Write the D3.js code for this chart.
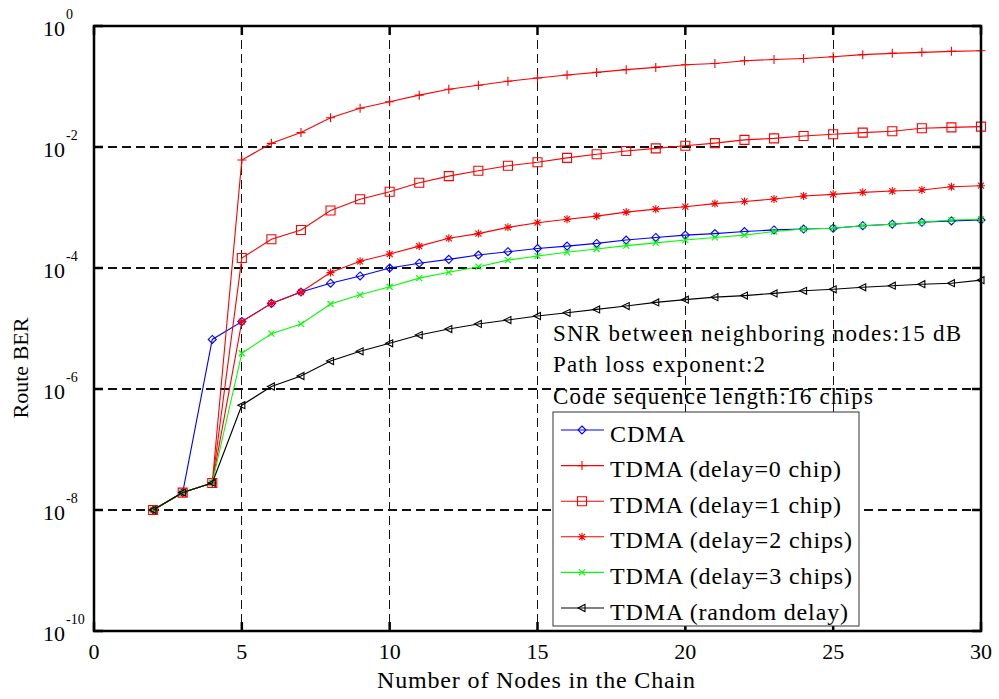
<!DOCTYPE html>
<html>
<head>
<meta charset="utf-8">
<script src="https://cdn.jsdelivr.net/npm/d3@7"></script>
<style>
  body { margin: 0; background: #fff; }
  text { font-family: "Liberation Serif", "Times New Roman", serif; fill: #000; }
</style>
</head>
<body>
<script>
// number of nodes in the chain (x axis)
var nodes = [2, 3, 4, 5, 6, 7, 8, 9, 10, 11, 12, 13, 14, 15, 16, 17, 18, 19, 20,
             21, 22, 23, 24, 25, 26, 27, 28, 29, 30];

// route BER
var cdma = [1.0e-8, 1.94e-8, 6.6e-6, 1.3e-5, 2.6e-5, 4.0e-5, 5.6e-5, 7.4e-5, 1.0e-4, 1.2e-4,
            1.39e-4, 1.64e-4, 1.86e-4, 2.1e-4, 2.3e-4, 2.55e-4, 2.9e-4, 3.2e-4, 3.5e-4, 3.7e-4,
            4.0e-4, 4.26e-4, 4.4e-4, 4.55e-4, 5.0e-4, 5.3e-4, 5.7e-4, 6.0e-4, 6.2e-4];
var tdma0 = [1.0e-8, 1.94e-8, 2.8e-8, 6.1e-3, 1.15e-2, 1.73e-2, 3.05e-2, 4.36e-2, 5.6e-2, 7.2e-2,
             9.0e-2, 0.105, 0.122, 0.138, 0.155, 0.171, 0.19, 0.207, 0.229, 0.24,
             0.267, 0.28, 0.29, 0.31, 0.336, 0.353, 0.367, 0.381, 0.39];
var tdma1 = [1.0e-8, 1.94e-8, 2.8e-8, 1.46e-4, 2.98e-4, 4.25e-4, 8.9e-4, 1.37e-3, 1.82e-3, 2.57e-3,
             3.3e-3, 4.05e-3, 4.9e-3, 5.6e-3, 6.6e-3, 7.6e-3, 8.6e-3, 9.5e-3, 1.05e-2, 1.16e-2,
             1.31e-2, 1.39e-2, 1.52e-2, 1.62e-2, 1.73e-2, 1.82e-2, 2.04e-2, 2.11e-2, 2.17e-2];
var tdma2 = [1.0e-8, 1.94e-8, 2.8e-8, 1.3e-5, 2.6e-5, 4.0e-5, 8.4e-5, 1.29e-4, 1.7e-4, 2.3e-4,
             3.1e-4, 3.7e-4, 4.7e-4, 5.6e-4, 6.4e-4, 7.2e-4, 8.4e-4, 9.4e-4, 1.03e-3, 1.16e-3,
             1.26e-3, 1.38e-3, 1.55e-3, 1.65e-3, 1.78e-3, 1.87e-3, 1.95e-3, 2.2e-3, 2.29e-3];
var tdma3 = [1.0e-8, 1.94e-8, 2.8e-8, 3.9e-6, 8.2e-6, 1.19e-5, 2.54e-5, 3.6e-5, 4.9e-5, 6.8e-5,
             8.5e-5, 1.05e-4, 1.35e-4, 1.58e-4, 1.82e-4, 2.06e-4, 2.34e-4, 2.6e-4, 2.9e-4, 3.2e-4,
             3.5e-4, 4.0e-4, 4.4e-4, 4.55e-4, 5.0e-4, 5.3e-4, 5.7e-4, 6.2e-4, 6.4e-4];
var tdmaRand = [1.0e-8, 1.94e-8, 2.8e-8, 5.4e-7, 1.1e-6, 1.64e-6, 2.9e-6, 4.2e-6, 5.7e-6, 7.8e-6,
                9.8e-6, 1.19e-5, 1.38e-5, 1.61e-5, 1.82e-5, 2.07e-5, 2.35e-5, 2.7e-5, 3.0e-5, 3.3e-5,
                3.5e-5, 3.8e-5, 4.2e-5, 4.45e-5, 4.8e-5, 5.1e-5, 5.4e-5, 5.6e-5, 6.3e-5];

var seriesNames = ["CDMA", "TDMA (delay=0 chip)", "TDMA (delay=1 chip)",
                   "TDMA (delay=2 chips)", "TDMA (delay=3 chips)", "TDMA (random delay)"];
var xTicks = [0, 5, 10, 15, 20, 25, 30];
var yExps = [0, -2, -4, -6, -8, -10];
var notes = ["SNR between neighboring nodes:15 dB", "Path loss exponent:2",
             "Code sequence length:16 chips"];

var series = [
  {name: seriesNames[0], vals: cdma, color: "#0000ff", mark: "diamond"},
  {name: seriesNames[1], vals: tdma0, color: "#ff0000", mark: "plus"},
  {name: seriesNames[2], vals: tdma1, color: "#ff0000", mark: "square"},
  {name: seriesNames[3], vals: tdma2, color: "#ff0000", mark: "star"},
  {name: seriesNames[4], vals: tdma3, color: "#00ff00", mark: "cross"},
  {name: seriesNames[5], vals: tdmaRand, color: "#000000", mark: "tri"}
];

var W = 999, H = 699;
var L = 94, R = 981, T = 26, B = 631;

var svg = d3.select("body").append("svg")
    .attr("width", W)
    .attr("height", H);

var x = d3.scaleLinear().domain([0, 30]).range([L, R]);
var y = d3.scaleLog().domain([1e-10, 1]).range([B, T]);

// dashed grid
var grid = svg.append("g").attr("shape-rendering", "crispEdges");
grid.selectAll(".gx")
    .data(xTicks.slice(1, -1))
    .enter().append("line")
    .attr("x1", function(d){ return x(d); })
    .attr("x2", function(d){ return x(d); })
    .attr("y1", T).attr("y2", B)
    .attr("stroke", "#111").attr("stroke-width", 1.3)
    .attr("stroke-dasharray", "9,5");
grid.selectAll(".gy")
    .data(yExps.slice(1, -1))
    .enter().append("line")
    .attr("y1", function(d){ return y(Math.pow(10, d)); })
    .attr("y2", function(d){ return y(Math.pow(10, d)); })
    .attr("x1", L).attr("x2", R)
    .attr("stroke", "#111").attr("stroke-width", 1.3)
    .attr("stroke-dasharray", "9,5");

// series
var line = d3.line()
    .x(function(d){ return x(d[0]); })
    .y(function(d){ return y(d[1]); });

function markPath(type) {
  if (type == "diamond") return "M0,-4L4,0L0,4L-4,0Z";
  if (type == "plus") return "M-4.5,0H4.5M0,-4.5V4.5";
  if (type == "square") return "M-4.5,-4.5H4.5V4.5H-4.5Z";
  if (type == "star") return "M-4,0H4M0,-4V4M-3,-3L3,3M-3,3L3,-3";
  if (type == "cross") return "M-3,-3L3,3M-3,3L3,-3";
  if (type == "tri") return "M-4,0L3,-3.5L3,3.5Z";
}

series.forEach(function(s){
  var pts = nodes.map(function(n, i){ return [n, s.vals[i]]; });
  var g = svg.append("g");
  g.append("path")
    .datum(pts)
    .attr("d", line)
    .attr("fill", "none")
    .attr("stroke", s.color)
    .attr("stroke-width", 1.1);
  g.selectAll(".m")
    .data(pts)
    .enter().append("path")
    .attr("transform", function(d){ return "translate(" + x(d[0]) + "," + y(d[1]) + ")"; })
    .attr("d", markPath(s.mark))
    .attr("fill", "none")
    .attr("stroke", s.color)
    .attr("stroke-width", 1.1);
});

// frame and ticks
svg.append("rect")
    .attr("x", L).attr("y", T)
    .attr("width", R - L).attr("height", B - T)
    .attr("fill", "none").attr("stroke", "#000").attr("stroke-width", 2.5);

var tk = svg.append("g").attr("stroke", "#000").attr("stroke-width", 2.5);
xTicks.forEach(function(t){
  tk.append("line").attr("x1", x(t)).attr("x2", x(t)).attr("y1", B).attr("y2", B - 9);
  tk.append("line").attr("x1", x(t)).attr("x2", x(t)).attr("y1", T).attr("y2", T + 9);
});
yExps.forEach(function(e){
  var yy = y(Math.pow(10, e));
  tk.append("line").attr("x1", L).attr("x2", L + 9).attr("y1", yy).attr("y2", yy);
  tk.append("line").attr("x1", R).attr("x2", R - 9).attr("y1", yy).attr("y2", yy);
});

// tick labels
svg.selectAll(".xl")
    .data(xTicks)
    .enter().append("text")
    .attr("x", function(d){ return x(d); })
    .attr("y", 659)
    .attr("text-anchor", "middle")
    .style("font-size", "22px")
    .text(function(d){ return d; });

var yl = svg.selectAll(".yl")
    .data(yExps)
    .enter().append("text")
    .attr("x", 43)
    .attr("y", function(d){ return y(Math.pow(10, d)) + 10; })
    .style("font-size", "22px");
yl.append("tspan").text("10");
yl.append("tspan")
    .attr("dy", -17)
    .attr("dx", 1)
    .style("font-size", "14px")
    .text(function(d){ return d; });

// axis titles
svg.append("text")
    .attr("x", 377)
    .attr("y", 688)
    .attr("textLength", 318)
    .attr("lengthAdjust", "spacing")
    .style("font-size", "24px")
    .text("Number of Nodes in the Chain");

svg.append("text")
    .attr("transform", "translate(28,368) rotate(-90)")
    .attr("text-anchor", "middle")
    .style("font-size", "22px")
    .text("Route BER");

// annotation
var noteW = [408, 212, 320];
svg.selectAll(".note")
    .data(notes)
    .enter().append("text")
    .attr("x", 553)
    .attr("y", function(d, i){ return 340.5 + i * 31.7; })
    .attr("textLength", function(d, i){ return noteW[i]; })
    .attr("lengthAdjust", "spacing")
    .style("font-size", "23px")
    .text(function(d){ return d; });

// legend
var legW = [75, 231, 231, 242, 242, 238];
var lg = svg.append("g");
lg.append("rect")
    .attr("x", 553).attr("y", 412)
    .attr("width", 306).attr("height", 214)
    .attr("fill", "#fff").attr("stroke", "#333").attr("stroke-width", 1);

series.forEach(function(s, i){
  var cy = 430 + i * 35.6;
  lg.append("line")
    .attr("x1", 561).attr("x2", 604).attr("y1", cy).attr("y2", cy)
    .attr("stroke", s.color).attr("stroke-width", 1.1);
  lg.append("path")
    .attr("transform", "translate(582," + cy + ")")
    .attr("d", markPath(s.mark))
    .attr("fill", "none").attr("stroke", s.color).attr("stroke-width", 1.1);
  lg.append("text")
    .attr("x", 610).attr("y", cy + 11.5)
    .attr("textLength", legW[i])
    .attr("lengthAdjust", "spacing")
    .style("font-size", "24px")
    .text(s.name);
});
</script>
</body>
</html>
